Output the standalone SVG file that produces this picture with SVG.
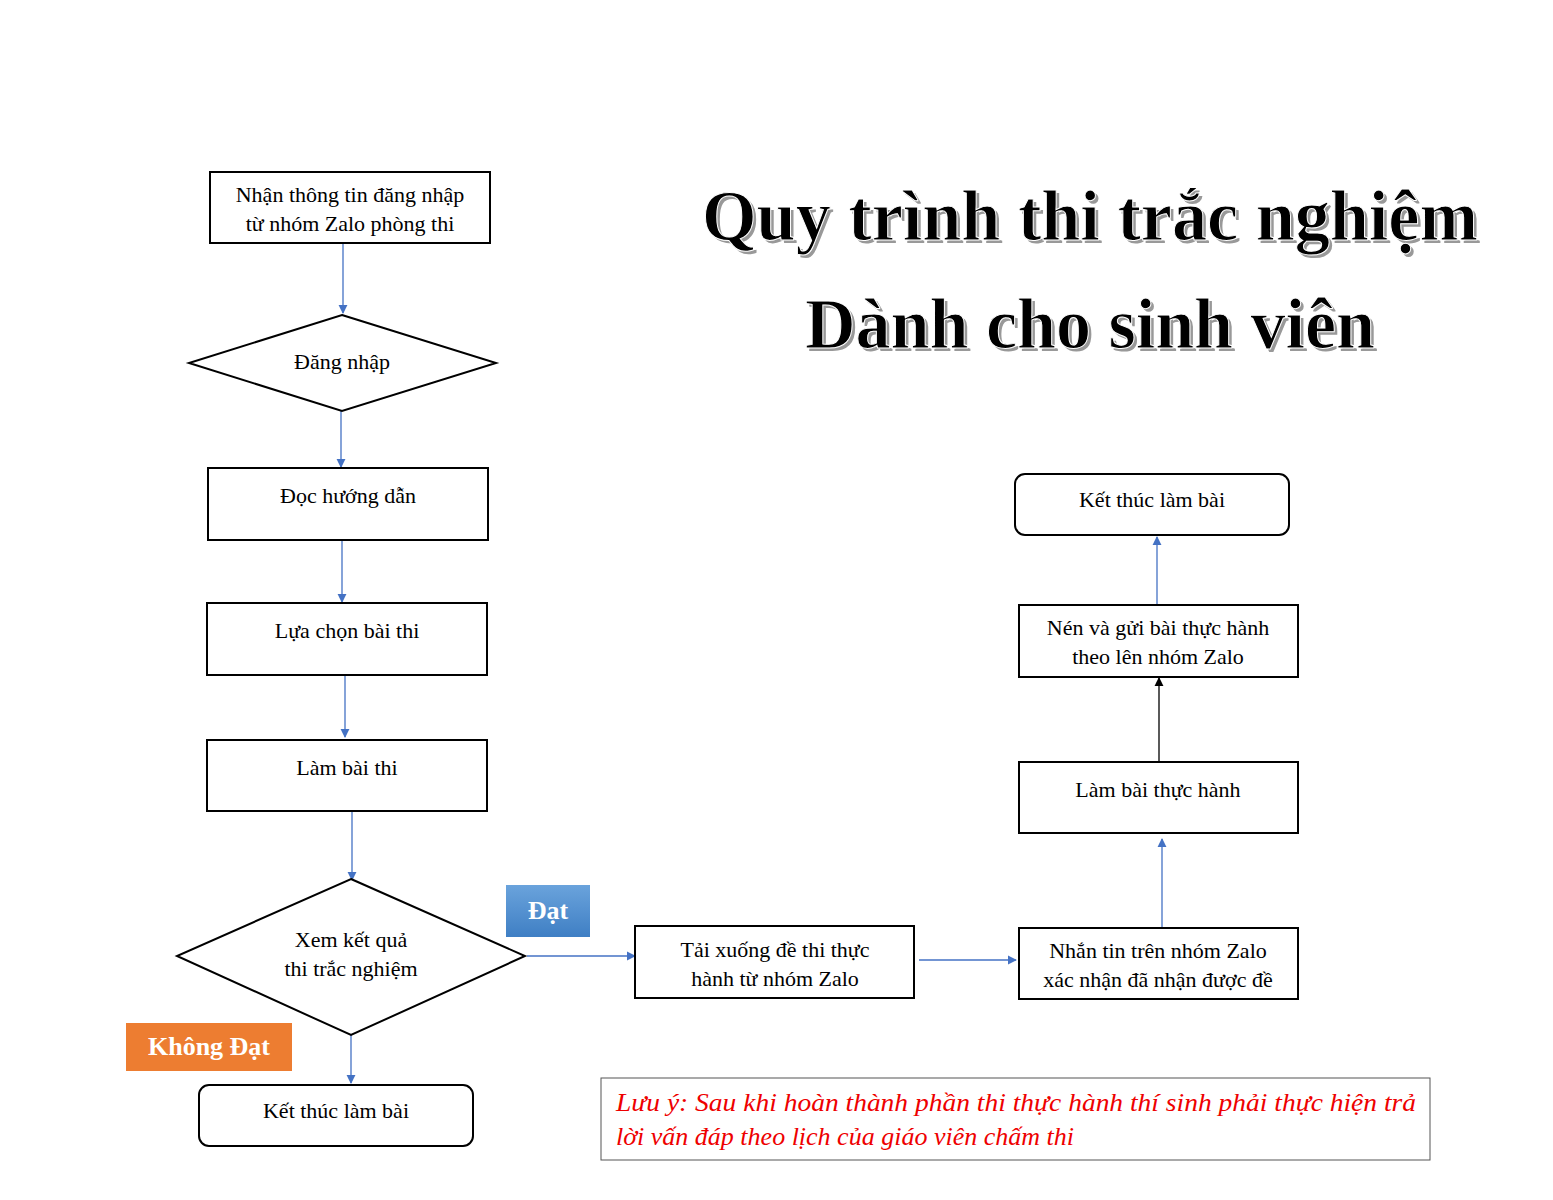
<svg xmlns="http://www.w3.org/2000/svg" width="1553" height="1200" viewBox="0 0 1553 1200">
<style>
.b{fill:#fff;stroke:#000;stroke-width:2}
.t{font-family:"Liberation Serif",serif;font-size:22px;fill:#000;text-anchor:middle}
.c{stroke:#4472c4;stroke-width:1.3;fill:none}
.ttl{font-family:"Liberation Serif",serif;font-weight:bold;font-size:72px;text-anchor:middle}
.lab{font-family:"Liberation Serif",serif;font-weight:bold;font-size:26px;fill:#fff;text-anchor:middle}
</style>
<defs>
<marker id="a" viewBox="0 0 10 10" refX="9" refY="5" markerWidth="7" markerHeight="7" orient="auto"><path d="M0,0L10,5L0,10z" fill="#4472c4"/></marker>
<marker id="k" viewBox="0 0 10 10" refX="9" refY="5" markerWidth="7" markerHeight="7" orient="auto"><path d="M0,0L10,5L0,10z" fill="#000"/></marker>
<linearGradient id="g" x1="0" y1="0" x2="0" y2="1"><stop offset="0" stop-color="#6aa3dc"/><stop offset="1" stop-color="#3f7fc4"/></linearGradient>
</defs>
<g id="title">
<text class="ttl" x="1093" y="243" fill="#999" textLength="776" lengthAdjust="spacingAndGlyphs">Quy trình thi trắc nghiệm</text>
<text class="ttl" x="1090" y="240" fill="#000" stroke="#fff" stroke-width="1" textLength="776" lengthAdjust="spacingAndGlyphs">Quy trình thi trắc nghiệm</text>
<text class="ttl" x="1093" y="351" fill="#999" textLength="570" lengthAdjust="spacingAndGlyphs">Dành cho sinh viên</text>
<text class="ttl" x="1090" y="348" fill="#000" stroke="#fff" stroke-width="1" textLength="570" lengthAdjust="spacingAndGlyphs">Dành cho sinh viên</text>
</g>
<g id="connectors">
<path class="c" d="M343,243V313" marker-end="url(#a)"/>
<path class="c" d="M341,411V467" marker-end="url(#a)"/>
<path class="c" d="M342,540V602" marker-end="url(#a)"/>
<path class="c" d="M345,675V737" marker-end="url(#a)"/>
<path class="c" d="M352,811V880" marker-end="url(#a)"/>
<path class="c" d="M351,1035V1083" marker-end="url(#a)"/>
<path class="c" d="M527,956H635" marker-end="url(#a)"/>
<path class="c" d="M919,960H1016" marker-end="url(#a)"/>
<path class="c" d="M1162,927V839" marker-end="url(#a)"/>
<path d="M1159,761V678" stroke="#000" stroke-width="1.3" marker-end="url(#k)"/>
<path class="c" d="M1157,604V537" marker-end="url(#a)"/>
</g>
<g id="n1"><rect class="b" x="210" y="172" width="280" height="71"/><text class="t" x="350" y="202">Nhận thông tin đăng nhập</text><text class="t" x="350" y="231">từ nhóm Zalo phòng thi</text></g>
<g id="n2"><polygon class="b" points="342,315 496,363 342,411 189,363"/><text class="t" x="342" y="369">Đăng nhập</text></g>
<g id="n3"><rect class="b" x="208" y="468" width="280" height="72"/><text class="t" x="348" y="503">Đọc hướng dẫn</text></g>
<g id="n4"><rect class="b" x="207" y="603" width="280" height="72"/><text class="t" x="347" y="638">Lựa chọn bài thi</text></g>
<g id="n5"><rect class="b" x="207" y="740" width="280" height="71"/><text class="t" x="347" y="775">Làm bài thi</text></g>
<g id="n6"><polygon class="b" points="351,879 525,956 351,1035 177,956"/><text class="t" x="351" y="947">Xem kết quả</text><text class="t" x="351" y="976">thi trắc nghiệm</text></g>
<g id="n7"><rect class="b" x="199" y="1085" width="274" height="61" rx="10"/><text class="t" x="336" y="1118">Kết thúc làm bài</text></g>
<g id="n8"><rect class="b" x="635" y="926" width="279" height="72"/><text class="t" x="775" y="957">Tải xuống đề thi thực</text><text class="t" x="775" y="986">hành từ nhóm Zalo</text></g>
<g id="n9"><rect class="b" x="1019" y="928" width="279" height="71"/><text class="t" x="1158" y="958">Nhắn tin trên nhóm Zalo</text><text class="t" x="1158" y="987">xác nhận đã nhận được đề</text></g>
<g id="n10"><rect class="b" x="1019" y="762" width="279" height="71"/><text class="t" x="1158" y="797">Làm bài thực hành</text></g>
<g id="n11"><rect class="b" x="1019" y="605" width="279" height="72"/><text class="t" x="1158" y="635">Nén và gửi bài thực hành</text><text class="t" x="1158" y="664">theo lên nhóm Zalo</text></g>
<g id="n12"><rect class="b" x="1015" y="474" width="274" height="61" rx="10"/><text class="t" x="1152" y="507">Kết thúc làm bài</text></g>
<g id="dat"><rect x="506" y="885" width="84" height="52" fill="url(#g)"/><text class="lab" x="548" y="919">Đạt</text></g>
<g id="khongdat"><rect x="126" y="1023" width="166" height="48" fill="#ed7d31"/><text class="lab" x="209" y="1055">Không Đạt</text></g>
<g id="note"><rect x="601" y="1078" width="829" height="82" fill="#fff" stroke="#555" stroke-width="1"/>
<text x="616" y="1111" font-family="Liberation Serif,serif" font-style="italic" font-size="26" fill="#e00" textLength="800" lengthAdjust="spacingAndGlyphs">Lưu ý: Sau khi hoàn thành phần thi thực hành thí sinh phải thực hiện trả</text>
<text x="616" y="1145" font-family="Liberation Serif,serif" font-style="italic" font-size="26" fill="#e00">lời vấn đáp theo lịch của giáo viên chấm thi</text></g>
</svg>
